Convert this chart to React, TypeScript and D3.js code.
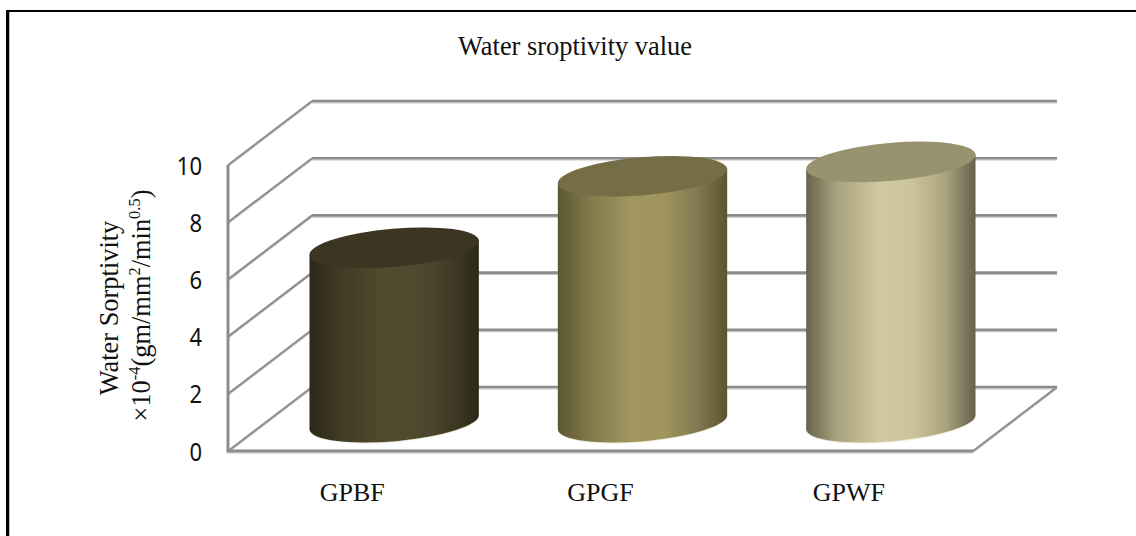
import React from "react";
import * as d3 from "d3";

const categories = ["GPBF", "GPGF", "GPWF"];
const values = [6.1, 8.6, 9.1];
const yTicks = [0, 2, 4, 6, 8, 10];
const titleText = "Water sroptivity value";
const sideStops = [
  ["#2d2918", "#3f3b25", "#504b2e", "#4f4a2e", "#413c26", "#2c2817"],
  ["#5b5533", "#80784c", "#a1965e", "#9f955d", "#807850", "#5a5431"],
  ["#68634b", "#a8a27f", "#d0c89f", "#cbc399", "#a9a27f", "#64604a"],
];
const topColors = ["#3b3522", "#746d45", "#98936f"];
const stopOffsets = [0, 0.18, 0.43, 0.63, 0.83, 1];

const W = 1136, H = 536;
const frontLeft = 228, frontRight = 973, y0 = 451, y10 = 165;
const depthX = 84, depthY = 64;
const barDepthX = 0.5, barDepthY = 0.45;
const rx = 85, ry = 19, tilt = -5;

const x = d3.scaleBand<string>().domain(categories).range([frontLeft, frontRight]);
const y = d3.scaleLinear().domain([0, 10]).range([y0, y10]);
const gridColor = "#8c8c8c";
const shadeColor = "#c6c6c6";

function Line3D({ x1, y1, x2, y2, w = 2.6 }: any) {
  return (
    <g>
      <line x1={x1} y1={y1 + w / 2 + 0.5} x2={x2} y2={y2 + w / 2 + 0.5} stroke={shadeColor} strokeWidth={1.2} />
      <line x1={x1} y1={y1} x2={x2} y2={y2} stroke={gridColor} strokeWidth={w} />
    </g>
  );
}

export default function App() {
  const dxBar = depthX * barDepthX;
  const dyBar = depthY * barDepthY;
  const s = Math.sin((tilt * Math.PI) / 180);
  const c = Math.cos((tilt * Math.PI) / 180);
  return (
    <svg width={W} height={H} style={{ position: "absolute", left: 0, top: 0, background: "#fff" }}>
      <defs>
        {sideStops.map((stops, i) => (
          <linearGradient key={i} id={`side${i}`} x1="0" x2="1" y1="0" y2="0">
            {stops.map((col, j) => (
              <stop key={j} offset={stopOffsets[j]} stopColor={col} />
            ))}
          </linearGradient>
        ))}
      </defs>

      {/* page frame */}
      <line x1={9} y1={11} x2={W} y2={11} stroke="#000" strokeWidth={2} />
      <line x1={7.5} y1={10} x2={7.5} y2={H} stroke="#000" strokeWidth={3} />
      <line x1={9.5} y1={12} x2={9.5} y2={H} stroke="#bbb" strokeWidth={1} />

      <text x={575} y={55} textAnchor="middle" fontFamily="Liberation Serif" fontSize={26.4} fill="#111">
        {titleText}
      </text>

      {/* walls */}
      {yTicks.map((t) => (
        <g key={t}>
          <Line3D x1={frontLeft} y1={y(t)} x2={frontLeft + depthX} y2={y(t) - depthY} w={2} />
          <Line3D x1={frontLeft + depthX} y1={y(t) - depthY} x2={frontRight + depthX} y2={y(t) - depthY} />
        </g>
      ))}
      <Line3D x1={frontRight} y1={y0} x2={frontRight + depthX} y2={y0 - depthY} w={2} />
      <line x1={frontLeft} y1={y10} x2={frontLeft} y2={y0} stroke={gridColor} strokeWidth={3} />
      <Line3D x1={frontLeft - 1.5} y1={y0} x2={frontRight} y2={y0} w={3} />

      {/* tick labels */}
      {yTicks.map((t) => (
        <text key={t} transform={`translate(202,${y(t) + 9.5}) scale(0.88,1)`} textAnchor="end"
          fontFamily="Noto Sans" fontSize={25} fill="#111">
          {t}
        </text>
      ))}

      {/* cylinders */}
      {categories.map((cat, i) => {
        const cx = x(cat)! + x.bandwidth() / 2 + dxBar;
        const topY = y(values[i]) - dyBar;
        const baseY = y(0) - dyBar;
        const ex = rx * c, ey = rx * s;
        const side = `M${cx - ex},${topY - ey} L${cx - ex},${baseY - ey} A${rx},${ry} ${tilt} 0 0 ${cx + ex},${baseY + ey} L${cx + ex},${topY + ey} Z`;
        return (
          <g key={cat}>
            <ellipse cx={cx} cy={baseY + 1} rx={rx} ry={ry} transform={`rotate(${tilt} ${cx} ${baseY + 1})`} fill="#ece9da" />
            <path d={side} fill={`url(#side${i})`} />
            <ellipse cx={cx} cy={topY} rx={rx} ry={ry} transform={`rotate(${tilt} ${cx} ${topY})`} fill={topColors[i]} />
          </g>
        );
      })}

      {/* category labels */}
      {categories.map((cat) => (
        <text key={cat} x={x(cat)! + x.bandwidth() / 2} y={501} textAnchor="middle"
          fontFamily="Liberation Serif" fontSize={26} fill="#111">
          {cat}
        </text>
      ))}

      {/* y axis title */}
      <g fontFamily="Liberation Serif" fontSize={26.4} fill="#111">
        <text transform="translate(118,308) rotate(-90)" textAnchor="middle">Water Sorptivity</text>
        <text transform="translate(150,305.5) rotate(-90)" textAnchor="middle">
          ×10<tspan fontSize={16.5} dy={-10}>-4</tspan>
          <tspan dy={10}>(gm/mm</tspan>
          <tspan fontSize={16.5} dy={-10}>2</tspan>
          <tspan dy={10}>/min</tspan>
          <tspan fontSize={16.5} dy={-10}>0.5</tspan>
          <tspan dy={10}>)</tspan>
        </text>
      </g>
    </svg>
  );
}
